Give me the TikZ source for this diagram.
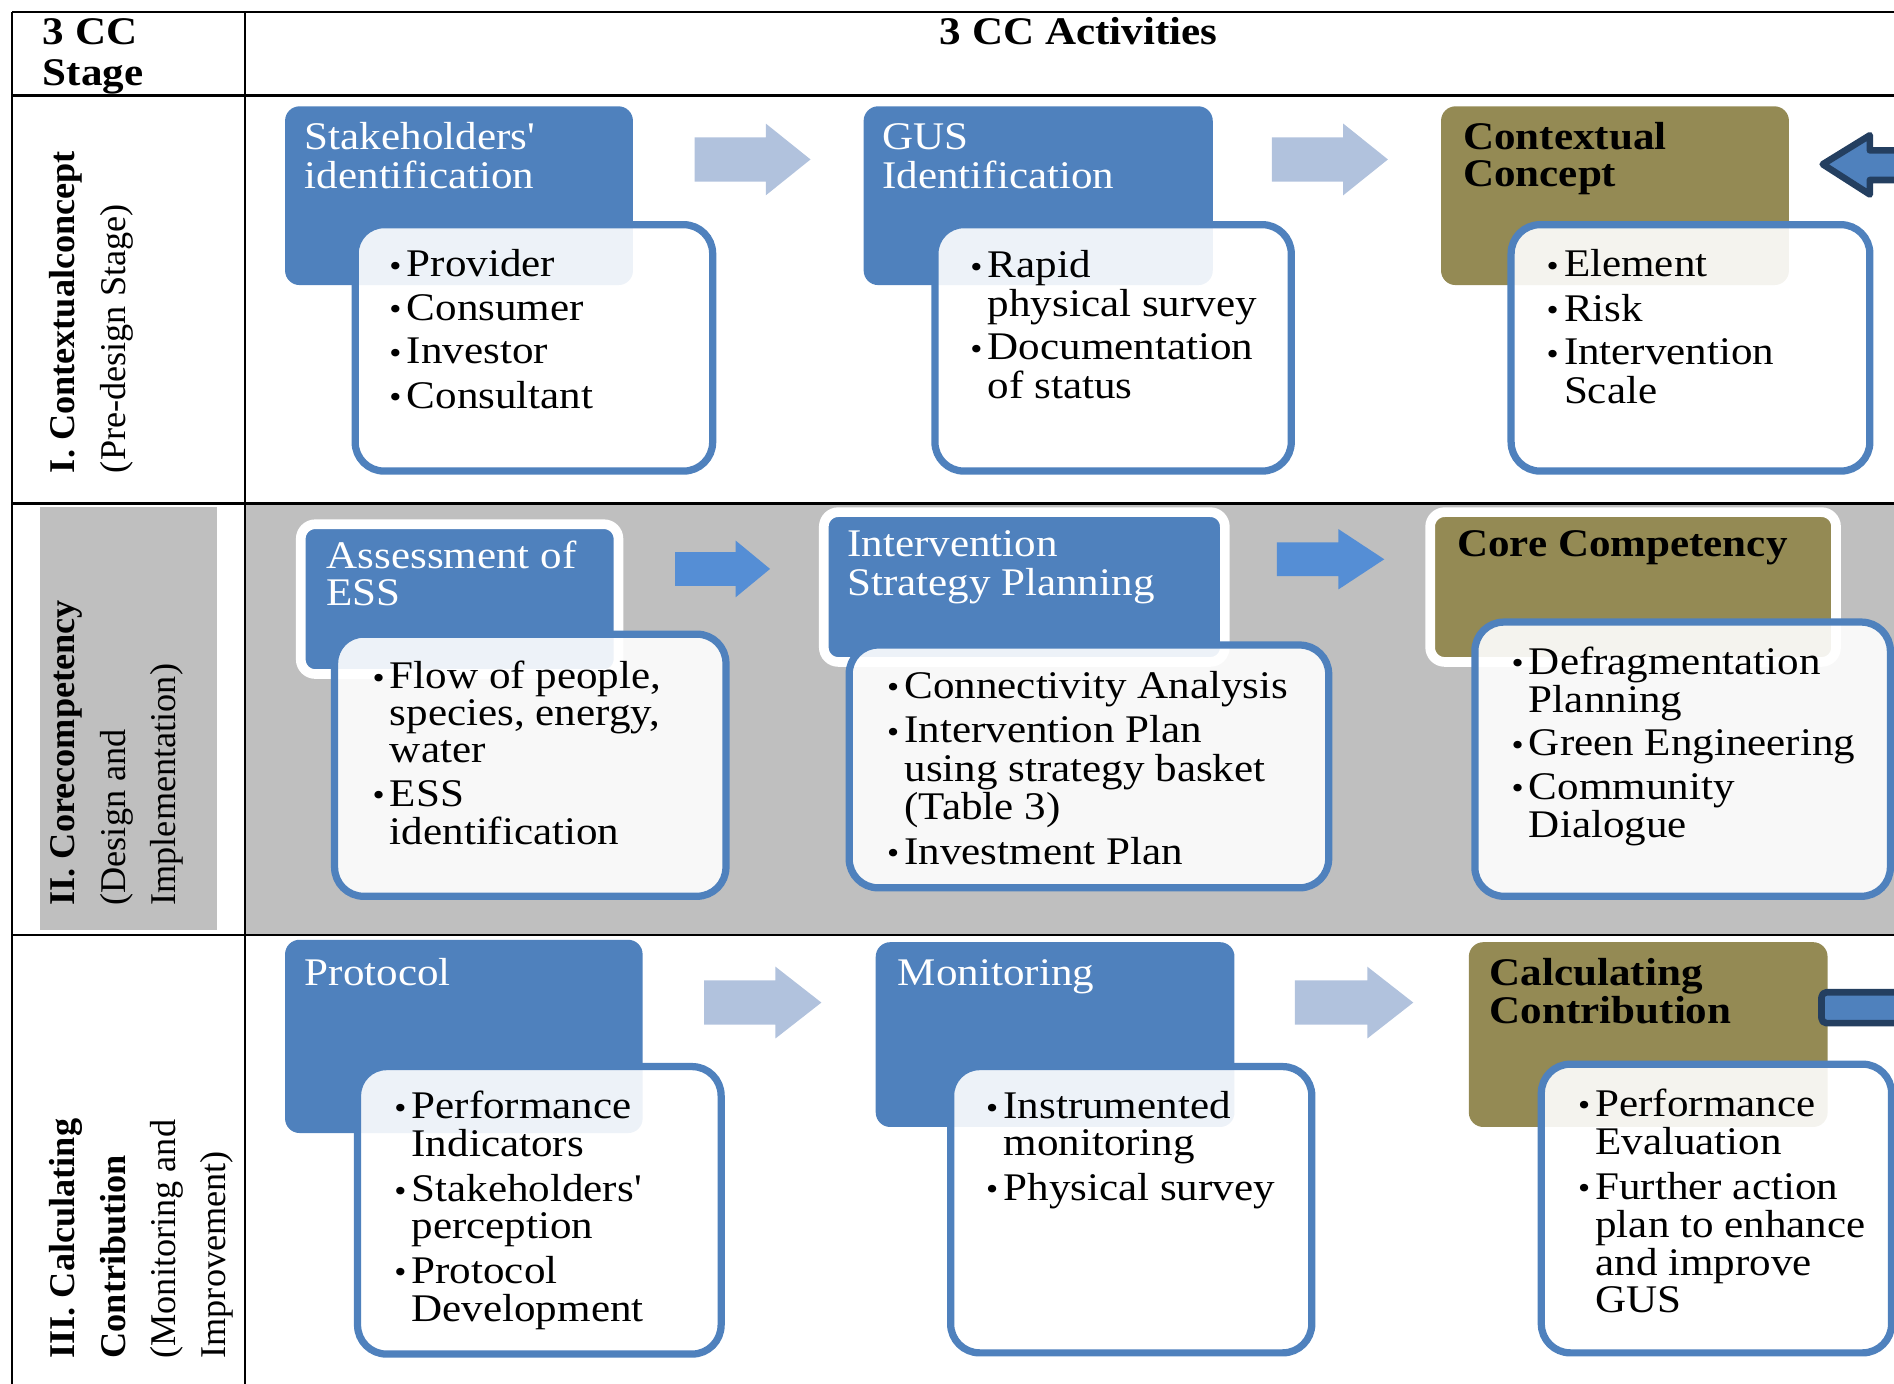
\documentclass[tikz,border=0pt]{standalone}
\usepackage{fontspec}
\setmainfont{Liberation Serif}[FakeStretch=1.1]
\newfontfamily\stagefont{Liberation Serif}
\usetikzlibrary{fit}
\definecolor{boxblue}{HTML}{4F81BD}
\definecolor{olivebox}{HTML}{948A54}
\definecolor{lightarrow}{HTML}{B1C2DD}
\definecolor{midarrow}{HTML}{558ED5}
\definecolor{darkoutline}{HTML}{243F60}
\definecolor{rowgray}{HTML}{BFBFBF}
\newcommand\bul{\makebox[7.2pt][l]{\raisebox{0.2pt}{\fontsize{13}{13}\selectfont\textbullet}}}
\newcommand\blockarrow[7]{\fill[#1] (#2,#3-#6) -- (#4,#3-#6) -- (#4,#3-#7) -- (#5,#3) -- (#4,#3+#7) -- (#4,#3+#6) -- (#2,#3+#6) -- cycle;}
\tikzset{
  titlebox/.style={inner sep=0pt, rounded corners=6pt},
  bluetitle/.style={titlebox, fill=boxblue},
  olivetitle/.style={titlebox, fill=olivebox},
  ringed/.style={draw=white, line width=4pt},
  detailbox/.style={inner sep=0pt, rounded corners=12pt, draw=boxblue, line width=3pt, fill=white, fill opacity=0.9},
  ttext/.style={inner sep=0pt, anchor=base west, text=white, font=\fontsize{16.2}{15.3}\selectfont},
  otext/.style={inner sep=0pt, anchor=base west, text=black, font=\bfseries\fontsize{16.2}{15.3}\selectfont},
  ltext/.style={inner sep=0pt, anchor=base west, text=black, font=\fontsize{16.2}{15.3}\selectfont},
  htext/.style={inner sep=0pt, text=black, font=\bfseries\fontsize{16.2}{17}\selectfont},
  stagetext/.style={inner sep=0pt, anchor=base west, rotate=90, font=\stagefont\fontsize{15}{20.8}\selectfont},
  lightarr/.style={fill=lightarrow},
  midarr/.style={fill=midarrow},
  feedback/.style={fill=boxblue, draw=darkoutline, line width=2.75pt, line join=round},
  gridline/.style={line width=1pt, draw=black},
}
\begin{document}
\begin{tikzpicture}[x=0.5pt, y=-0.5pt]
\useasboundingbox (0,0) rectangle (1568,1145);
\begin{scope}
\clip (0,0) rectangle (1568,1145);
% backgrounds
\fill[rowgray] (203,417) rectangle (1580,774);
\fill[rowgray] (33,420) rectangle (180,770);
% grid
\draw[gridline] (10,10) -- (1580,10);
\draw[line width=1.3pt] (10,79) -- (1580,79);
\draw[gridline] (10,417) -- (1580,417);
\draw[gridline] (10,774) -- (1580,774);
\draw[gridline] (10,10) -- (10,1160);
\draw[gridline] (203,10) -- (203,1160);

% header
\node[htext, anchor=base west] (H1) at (35,37) {\begin{tabular}[t]{@{}l@{}}3 CC\\Stage\end{tabular}};
\node[htext, anchor=base] (H2) at (893,37) {3 CC Activities};

% stage labels
\node[stagetext] (S1) at (62,392) {\begin{tabular}[t]{@{}l@{}}\textbf{I. Contextualconcept}\\(Pre-design Stage)\end{tabular}};
\node[stagetext] (S2) at (62,750) {\begin{tabular}[t]{@{}l@{}}\textbf{II. Corecompetency}\\(Design and\\Implementation)\end{tabular}};
\node[stagetext] (S3) at (62,1125) {\begin{tabular}[t]{@{}l@{}}\textbf{III. Calculating}\\\textbf{Contribution}\\(Monitoring and\\Improvement)\end{tabular}};

% ---------- Row 1 ----------
\node[bluetitle, fit={(236,88) (524,236)}] (A1) {};
\node[bluetitle, fit={(715,88) (1004,236)}] (B1) {};
\node[olivetitle, fit={(1193,88) (1481,236)}] (C1) {};
\node[ttext] (A1t) at (252,124) {\begin{tabular}[t]{@{}l@{}}Stakeholders\textquotesingle\\identification\end{tabular}};
\node[ttext] (B1t) at (730,124) {\begin{tabular}[t]{@{}l@{}}GUS\\Identification\end{tabular}};
\node[otext] (C1t) at (1211,124) {\begin{tabular}[t]{@{}l@{}}Contextual\\Concept\end{tabular}};
\node[detailbox, fit={(294,186) (590,390)}] (D1) {};
\node[detailbox, fit={(774,186) (1069,390)}] (D2) {};
\node[detailbox, fit={(1251,186) (1548,390)}] (D3) {};
\node[ltext] (D1t) at (322,229) {\begin{tabular}[t]{@{}l@{}l@{}}\bul&Provider\\[2.7pt]\bul&Consumer\\[2.7pt]\bul&Investor\\[2.7pt]\bul&Consultant\end{tabular}};
\node[ltext] (D2t) at (803,230) {\begin{tabular}[t]{@{}l@{}l@{}}\bul&Rapid\\&physical survey\\[2.7pt]\bul&Documentation\\&of status\end{tabular}};
\node[ltext] (D3t) at (1280,229) {\begin{tabular}[t]{@{}l@{}l@{}}\bul&Element\\[2.7pt]\bul&Risk\\[2.7pt]\bul&Intervention\\&Scale\end{tabular}};
\blockarrow{lightarr}{575}{132}{634}{671}{18.3}{29.7}
\blockarrow{lightarr}{1053}{132}{1112}{1149}{18.3}{29.7}
\draw[feedback] (1509,136) -- (1548,112) -- (1548,124.5) -- (1590,124.5) -- (1590,149) -- (1548,149) -- (1548,161) -- cycle;

% ---------- Row 2 ----------
\node[bluetitle, ringed, fit={(249,434) (512,558)}] (A2) {};
\node[bluetitle, ringed, fit={(682,424) (1014,548)}] (B2) {};
\node[olivetitle, ringed, fit={(1184,424) (1520,548)}] (C2) {};
\node[ttext] (A2t) at (270,471) {\begin{tabular}[t]{@{}l@{}}Assessment of\\ESS\end{tabular}};
\node[ttext] (B2t) at (701,461) {\begin{tabular}[t]{@{}l@{}}Intervention\\Strategy Planning\end{tabular}};
\node[otext] (C2t) at (1206,461) {Core Competency};
\node[detailbox, fit={(277,525) (601,742)}] (D4) {};
\node[detailbox, fit={(703,534) (1100,735)}] (D5) {};
\node[detailbox, fit={(1221,515) (1565,742)}] (D6) {};
\node[ltext] (D4t) at (308,570) {\begin{tabular}[t]{@{}l@{}l@{}}\bul&Flow of people,\\&species, energy,\\&water\\[2.7pt]\bul&ESS\\&identification\end{tabular}};
\node[ltext] (D5t) at (734,578) {\begin{tabular}[t]{@{}l@{}l@{}}\bul&Connectivity Analysis\\[2.7pt]\bul&Intervention Plan\\&using strategy basket\\&(Table 3)\\[2.7pt]\bul&Investment Plan\end{tabular}};
\node[ltext] (D6t) at (1251,558) {\begin{tabular}[t]{@{}l@{}l@{}}\bul&Defragmentation\\&Planning\\[2.7pt]\bul&Green Engineering\\[2.7pt]\bul&Community\\&Dialogue\end{tabular}};
\blockarrow{midarr}{559}{471}{609}{637.5}{14}{23.5}
\blockarrow{midarr}{1057}{463}{1108}{1146}{14}{25}

% ---------- Row 3 ----------
\node[bluetitle, fit={(236,778) (532,938)}] (A3) {};
\node[bluetitle, fit={(725,780) (1022,933)}] (B3) {};
\node[olivetitle, fit={(1216,780) (1513,933)}] (C3) {};
\node[ttext] (A3t) at (252,816) {Protocol};
\node[ttext] (B3t) at (743,816) {Monitoring};
\node[otext] (C3t) at (1233,816) {\begin{tabular}[t]{@{}l@{}}Calculating\\Contribution\end{tabular}};
\draw[feedback, rounded corners=2pt] (1508,821.5) rectangle (1590,847);
\node[detailbox, fit={(296,883) (597,1121)}] (D7) {};
\node[detailbox, fit={(787,883) (1086,1120)}] (D8) {};
\node[detailbox, fit={(1276,881) (1566,1120)}] (D9) {};
\node[ltext] (D7t) at (326,926) {\begin{tabular}[t]{@{}l@{}l@{}}\bul&Performance\\&Indicators\\[2.7pt]\bul&Stakeholders\textquotesingle\\&perception\\[2.7pt]\bul&Protocol\\&Development\end{tabular}};
\node[ltext] (D8t) at (816,926) {\begin{tabular}[t]{@{}l@{}l@{}}\bul&Instrumented\\&monitoring\\[2.7pt]\bul&Physical survey\end{tabular}};
\node[ltext] (D9t) at (1306,924) {\begin{tabular}[t]{@{}l@{}l@{}}\bul&Performance\\&Evaluation\\[2.7pt]\bul&Further action\\&plan to enhance\\&and improve\\&GUS\end{tabular}};
\blockarrow{lightarr}{583}{830}{642}{680}{18.3}{29.7}
\blockarrow{lightarr}{1072}{830}{1132}{1170}{18.3}{29.7}
\end{scope}
\end{tikzpicture}
\end{document}
